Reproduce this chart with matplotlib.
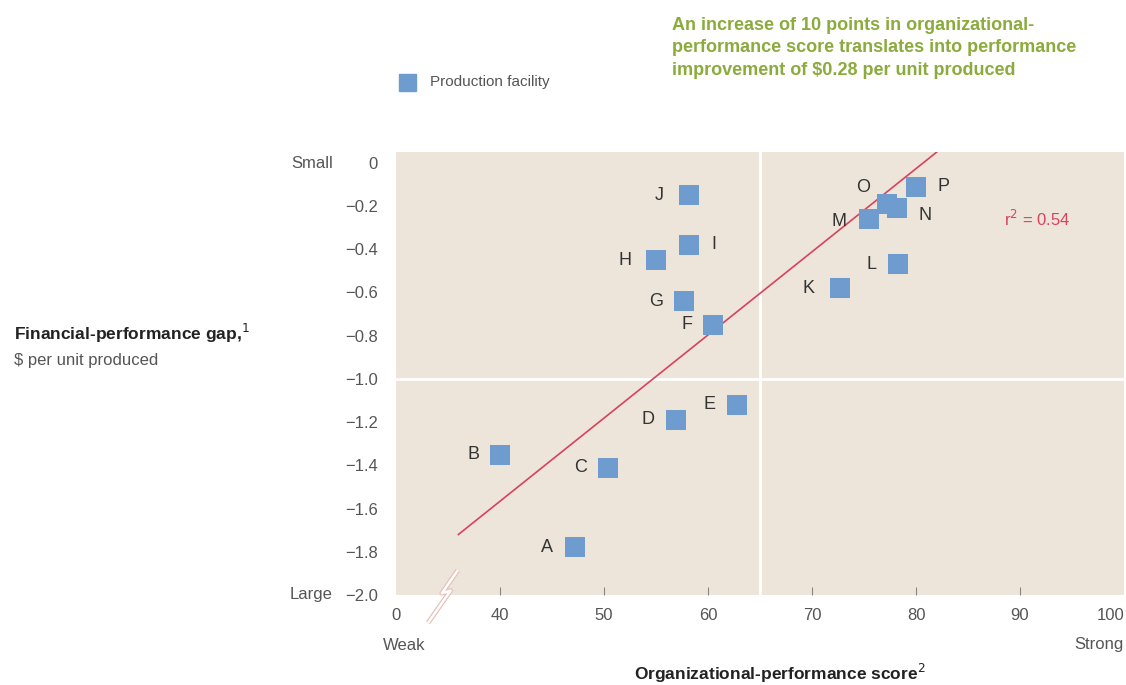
import matplotlib.pyplot as plt
from matplotlib.ticker import FixedLocator, FixedFormatter

plt.rcParams['font.family'] = ['Liberation Sans', 'DejaVu Sans']

# Data
facilities = ['A', 'B', 'C', 'D', 'E', 'F', 'G', 'H', 'I', 'J', 'K', 'L', 'M', 'N', 'O', 'P']
org_score = [47.2, 40.0, 50.4, 56.9, 62.8, 60.5, 57.7, 55.0, 58.2, 58.2, 72.7, 78.3, 75.5, 78.2, 77.2, 80.0]
fin_gap = [-1.78, -1.35, -1.41, -1.19, -1.12, -0.75, -0.64, -0.45, -0.38, -0.15,
           -0.58, -0.47, -0.26, -0.21, -0.19, -0.11]
# label offsets in points (dx, dy)
label_offsets = {'A': (-20, 0), 'B': (-19, 0), 'C': (-20, 0), 'D': (-20, 0), 'E': (-20, 0),
                 'F': (-19, 0), 'G': (-20, 0), 'H': (-22, 0), 'I': (18, 0), 'J': (-22, 0),
                 'K': (-23, 0), 'L': (-19, 0), 'M': (-22, -2), 'N': (20, -5), 'O': (-17, 12),
                 'P': (20, 0)}
fit_x = [36.0, 82.0]
fit_y = [-1.72, 0.05]
x_ticks = [30, 40, 50, 60, 70, 80, 90, 100]
x_ticklabels = ['0', '40', '50', '60', '70', '80', '90', '100']
y_ticks = [0, -0.2, -0.4, -0.6, -0.8, -1.0, -1.2, -1.4, -1.6, -1.8, -2.0]

bg = '#ede4da'
blue = '#6f9ccf'
red = '#d8435c'
green = '#8bab3c'
grey = '#555555'

fig = plt.figure(figsize=(11.26, 6.85), dpi=100)
ax = fig.add_axes([396 / 1126, 90 / 685, 728 / 1126, 443 / 685])
ax.set_facecolor(bg)
for s in ax.spines.values():
    s.set_visible(False)

ax.set_xlim(30, 100)
ax.set_ylim(-2.0, 0.05)

ax.axvline(65, color='white', lw=2, zorder=1)
ax.axhline(-1.0, color='white', lw=2, zorder=1)

ax.plot(fit_x, fit_y, color=red, lw=1.2, zorder=2)
ax.scatter(org_score, fin_gap, marker='s', s=190, color=blue, zorder=3, linewidths=0)

for name, x, y in zip(facilities, org_score, fin_gap):
    dx, dy = label_offsets[name]
    ax.annotate(name, (x, y), xytext=(dx, dy), textcoords='offset points',
                ha='center', va='center', fontsize=13, color='#333333')

ax.text(88.5, -0.26, 'r$^2$ = 0.54', color=red, fontsize=12, va='center')

ax.xaxis.set_major_locator(FixedLocator(x_ticks))
ax.xaxis.set_major_formatter(FixedFormatter(x_ticklabels))
ax.set_yticks(y_ticks)
ax.set_yticklabels(['0' if v == 0 else '\u2212%.1f' % abs(v) for v in y_ticks])
ax.tick_params(axis='x', direction='in', length=6, color='#888888', labelsize=12,
               labelcolor=grey, pad=9)
ax.tick_params(axis='y', length=0, labelsize=12, labelcolor=grey, pad=13)
ax.get_xticklabels()[-1].set_horizontalalignment('right')
ax.xaxis.get_major_ticks()[0].tick1line.set_visible(False)
ax.xaxis.get_major_ticks()[-1].tick1line.set_visible(False)

# axis break mark
brk_x = [0.085, 0.063, 0.075, 0.044]
brk_y = [0.056, 0.004, 0.010, -0.063]
ax.plot(brk_x, brk_y, transform=ax.transAxes, color='#e6bfb9', lw=3.5, clip_on=False,
        solid_joinstyle='round', solid_capstyle='butt', zorder=4)
ax.plot(brk_x, brk_y, transform=ax.transAxes, color='white', lw=1.8, clip_on=False,
        solid_joinstyle='round', solid_capstyle='butt', zorder=5)

fig.text(333 / 1126, 1 - 163 / 685, 'Small', ha='right', va='center', fontsize=12, color=grey)
fig.text(333 / 1126, 1 - 594 / 685, 'Large', ha='right', va='center', fontsize=12, color=grey)
fig.text(404 / 1126, 1 - 645 / 685, 'Weak', ha='center', va='center', fontsize=12, color=grey)
fig.text(1124 / 1126, 1 - 645 / 685, 'Strong', ha='right', va='center', fontsize=12, color=grey)

fig.text(14 / 1126, 1 - 333 / 685, 'Financial-performance gap,$^1$', fontsize=12.5,
         fontweight='bold', color='#222222', va='center')
fig.text(14 / 1126, 1 - 360 / 685, '$ per unit produced', fontsize=12, color=grey, va='center')
fig.text(780 / 1126, 1 - 673 / 685, 'Organizational-performance score$^2$', fontsize=12.5,
         fontweight='bold', color='#222222', ha='center', va='center')

# legend
fig.text(672 / 1126, 1 - 48 / 685,
         'An increase of 10 points in organizational-\nperformance score translates into performance\n'
         'improvement of $0.28 per unit produced', fontsize=13, fontweight='bold',
         color=green, va='center', linespacing=1.45)
fig.add_artist(plt.Rectangle((399 / 1126, 1 - 91 / 685), 17 / 1126, 17 / 685,
                             color=blue, transform=fig.transFigure))
fig.text(430 / 1126, 1 - 82 / 685, 'Production facility', fontsize=11, color=grey, va='center')

fig.savefig('out.png', dpi=100)
